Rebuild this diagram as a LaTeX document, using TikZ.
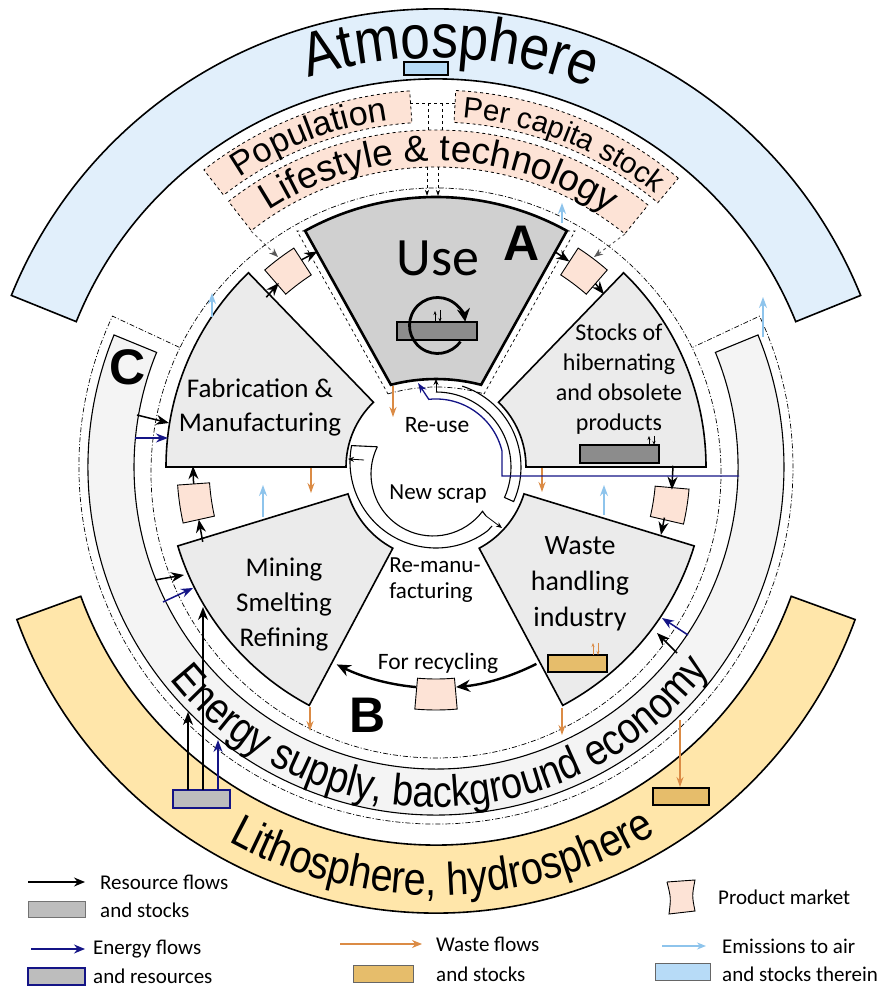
\documentclass[tikz,border=0pt]{standalone}
\usepackage{fontspec}
\setmainfont{Carlito}
\newfontfamily\arialf{Liberation Sans}
\newfontfamily\arialn[FakeStretch=0.86]{Liberation Sans}
\usetikzlibrary{arrows.meta,decorations.text}
\definecolor{atmo}{HTML}{E1EFFB}
\definecolor{atmobox}{HTML}{B7DBF7}
\definecolor{litho}{HTML}{FFE6AA}
\definecolor{bandgray}{HTML}{F4F4F4}
\definecolor{secgray}{HTML}{EBEBEB}
\definecolor{usegray}{HTML}{D0D0D0}
\definecolor{peach}{HTML}{FDE3D6}
\definecolor{stockgray}{HTML}{8C8C8C}
\definecolor{resgray}{HTML}{BDBDBD}
\definecolor{tanbox}{HTML}{E6BD6B}
\definecolor{wasteor}{HTML}{DB8B45}
\definecolor{emis}{HTML}{8EC4EC}
\definecolor{nrgblue}{HTML}{141486}
\newcommand{\ringsec}[5][]{\path[#1] (#2:#4) arc[start angle=#2,end angle=#3,radius=#4] -- (#3:#5) arc[start angle=#3,end angle=#2,radius=#5] -- cycle;}
\begin{document}
\begin{tikzpicture}[x=1pt,y=1pt,
  blk/.style={line width=1.5pt,-{Stealth[length=13pt,width=10pt]}},
  nrg/.style={draw=nrgblue,line width=1.5pt,-{Stealth[length=12pt,width=9pt]}},
  wst/.style={draw=wasteor,line width=1.3pt,-{Stealth[length=10pt,width=7pt]}},
  emi/.style={draw=emis,line width=1.6pt,-{Stealth[length=11pt,width=8pt]}},
  sector/.style={draw=black,line width=1.6pt,fill=secgray,line join=miter},
  mkt/.style={draw=black,line width=0.9pt,fill=peach},
  dshdot/.style={line width=0.7pt,dash pattern=on 5pt off 2pt on 1pt off 2pt},
  dbox/.style={draw,dashed,fill=peach,line width=0.8pt},
  tiny/.style={line width=0.6pt,-{Stealth[length=4pt,width=3pt]}},
  lab/.style={align=center,inner sep=0pt},
  leg/.style={anchor=west,inner sep=0pt,font=\fontsize{21}{24}\selectfont},
  big/.style={font=\arialf\bfseries\fontsize{50}{50}\selectfont,inner sep=0pt}
]
\fill[white] (0,0) rectangle (885,988);
\useasboundingbox (0,0) rectangle (885,988);
\begin{scope}[shift={(436,521)}]
% outer bands
\ringsec[draw,fill=atmo,line width=1.6pt]{22}{158}{458}{388}
\draw[fill=atmobox,line width=1.2pt] (-32,392) rectangle (12,405);
\ringsec[draw,fill=litho,line width=1.6pt]{200}{340}{446}{378}
\ringsec[draw,fill=bandgray,line width=1.1pt]{157.7}{382.3}{348}{302}
% boundaries
\draw[dshdot] (0,-6) circle[radius=285];
\draw[dshdot] (155:283) -- (155:357) arc[start angle=155,end angle=385,radius=357] -- (25:283);
% driver boxes
\ringsec[dbox]{94}{128}{377}{345}
\ringsec[dbox]{50}{87}{377}{345}
\ringsec[dbox]{51}{128}{337}{300}
\draw[dashed,line width=0.8pt] (-26,364) -- (19,364);
\draw[dashed,line width=0.8pt] (-8,364) -- (-8,337);
\draw[dashed,line width=0.8pt] (6,364) -- (6,337);
\draw[dashed,line width=0.7pt,-{Stealth[length=6pt,width=4pt]}] (-9,300) -- (-9,271);
\draw[dashed,line width=0.7pt,-{Stealth[length=6pt,width=4pt]}] (2,300) -- (2,271);
\draw[dashed,draw=black!65,line width=0.9pt,-{Stealth[length=9pt,width=7pt]}] (-185,236) -- (-158,210);
\draw[dashed,draw=black!65,line width=0.9pt,-{Stealth[length=9pt,width=7pt]}] (189,233) -- (158,210);
% curved texts
\path[decorate,decoration={text along path,text align=center,text={|\arialn\fontsize{62}{62}\selectfont|Atmosphere}}] (130:409) arc[start angle=130,end angle=46,radius=409];
\path[decorate,decoration={text along path,text align=center,text={|\arialf\fontsize{34}{34}\selectfont|Population}}] (128:350) arc[start angle=128,end angle=94,radius=350];
\path[decorate,decoration={text along path,text align=center,text={|\arialf\fontsize{29.5}{29.5}\selectfont|Per capita stock}}] (87:350) arc[start angle=87,end angle=50,radius=350];
\path[decorate,decoration={text along path,text align=center,text={|\arialf\fontsize{37}{37}\selectfont|Lifestyle {\&} technology}}] (128:306) arc[start angle=128,end angle=51,radius=306];
\path[decorate,decoration={text along path,text align=center,text={|\arialn\fontsize{44}{44}\selectfont|Energy supply, background economy}}] (204:340) arc[start angle=204,end angle=338,radius=340];
\path[decorate,decoration={text along path,text align=center,text={|\arialn\fontsize{46}{46}\selectfont|Lithosphere, hydrosphere}}] (206:428) arc[start angle=206,end angle=336,radius=428];
% dashed outline around Use
\draw[dashed,line width=0.7pt] (-131,236) -- (-139,236) -- (-48,73);
\draw[dashed,line width=0.7pt] (131,236) -- (139,236) -- (48,73);
\draw[dshdot] (0,-91) ++(106.3:171) arc[start angle=106.3,end angle=73.7,radius=171];
% sectors
\ringsec[sector]{134}{180}{270}{90}
\ringsec[sector]{0}{46}{270}{90}
\ringsec[sector]{197}{242}{270}{92}
\ringsec[sector]{298}{343}{270}{92}
\path[sector,fill=usegray,line width=2.6pt] (119:270) arc[start angle=119,end angle=61,radius=270] -- (45.1,82.2) arc[start angle=75.4,end angle=104.6,radius=179] -- cycle;
% product markets
\ringsec[mkt]{123}{131}{261}{229}
\ringsec[mkt]{49}{57}{261}{229}
\ringsec[mkt]{184}{192.5}{259}{227}
\ringsec[mkt]{-13}{-5}{254}{220}
\ringsec[mkt]{265}{275}{243}{212}
% product flows
\draw[blk] (135:240) -- (130.5:242);
\draw[blk] (123:247) -- (118.8:246);
\draw[blk] (61.2:246) -- (57:245);
\draw[blk] (49:243) -- (45.8:241);
\draw[blk] (0.3:237) -- (-5.5:237);
\draw[blk] (-12.5:234) -- (-16.8:235);
\draw[blk] (197.8:245) -- (192.5:243);
\draw[blk] (184:243) -- (179.8:243);
\draw[line width=2.4pt,-{Stealth[length=14pt,width=12pt]}] (297:221) arc[start angle=297,end angle=275.2,radius=221];
\draw[line width=2.4pt,-{Stealth[length=14pt,width=12pt]}] (264.8:221) arc[start angle=264.8,end angle=243.3,radius=221];
% inflows from background economy
\draw[blk] (-299,52) -- (-267,44);
\draw[nrg] (-301,29) -- (-268,29);
\draw[blk] (-281,-113) -- (-252,-108);
\draw[nrg] (-273,-135) -- (-243,-121);
\draw[blk] (241,-186) -- (221,-166);
\draw[nrg] (252,-168) -- (226,-151);
\draw[draw=nrgblue,fill=resgray,line width=2.2pt] (-263,-323) rectangle (-206,-341);
\draw[blk] (-248,-323) -- (-248,-245);
\draw[blk] (-233,-323) -- (-233,-140);
\draw[nrg] (-218,-323) -- (-218,-273);
% waste flows
\draw[wst] (-43,81) -- (-43,50);
\draw[wst] (-125,-1) -- (-125,-26);
\draw[wst] (106,-1) -- (106,-25);
\draw[wst] (-126,-240) -- (-126,-264);
\draw[wst] (126,-241) -- (126,-268);
\draw[wst] (244,-253) -- (244,-320);
\draw[fill=tanbox,line width=1.6pt] (217,-321) rectangle (273,-338);
\draw[fill=tanbox,line width=1.6pt] (112,-188) rectangle (171,-205);
\draw[tiny,draw=wasteor] (157,-188) -- (157,-176);
\draw[tiny,draw=wasteor] (162,-176) -- (162,-188);
% emissions
\draw[emi] (-224,150) -- (-224,174);
\draw[emi] (126,244) -- (126,264);
\draw[emi] (-173,-50) -- (-173,-18);
\draw[emi] (168,-48) -- (168,-18);
\draw[emi] (327,130) -- (327,170);
% hub: re-use and new scrap
\draw[line width=1.1pt] (90:75) arc[start angle=90,end angle=-24,radius=75] -- (-24:85) arc[start angle=-24,end angle=72,radius=85];
\draw[line width=0.8pt,-{Stealth[length=6pt,width=5pt]}] (0,75) -- (0,88);
\draw[line width=1.1pt] (-58.7,20.2) -- (-84.4,21.4) arc[start angle=169,end angle=307,radius=86] -- (56,-59);
\draw[line width=1.1pt] (-58.7,20.2) arc[start angle=154,end angle=323,radius=62] -- (50,-49);
\draw[line width=0.8pt,-{Stealth[length=6pt,width=5pt]}] (50,-49) -- (66,-61);
\draw[line width=0.8pt,-{Stealth[length=6pt,width=5pt]}] (-72,7) -- (-88,8);
\draw[nrgblue,line width=1.3pt,-{Stealth[length=10pt,width=7pt]}] (303,-9) -- (66,-9) -- (66,16) arc[start angle=13.6,end angle=96,radius=68] -- (-18,84);
% stocks in use and hibernating
\draw[fill=stockgray,line width=1.3pt] (-39,127) rectangle (41,145);
\draw[line width=2.8pt,-{Stealth[length=13pt,width=13pt]}] (1.5,141.5) ++(-35:28) arc[start angle=-35,end angle=-352,radius=28];
\draw[tiny] (-1,145) -- (-1,156);
\draw[tiny] (4,157) -- (4,145);
\draw[fill=stockgray,line width=1.3pt] (144,4) rectangle (223,22);
\draw[tiny] (213,22) -- (213,31);
\draw[tiny] (218,31) -- (218,22);
% labels
\node[lab,font=\fontsize{54}{54}\selectfont] (use) at (2,209) {Use};
\node[big] (lblA) at (86,224) {A};
\node[big] (lblB) at (-68,-248) {B};
\node[big] (lblC) at (-308,100) {C};
\node[lab,font=\fontsize{27}{34}\selectfont] (fab) at (-176,60) {Fabrication \&\\Manufacturing};
\node[lab,font=\fontsize{24}{30}\selectfont] (stk) at (183,88) {Stocks of\\hibernating\\and obsolete\\products};
\node[lab,font=\fontsize{27}{35}\selectfont] (min) at (-152,-138) {Mining\\Smelting\\Refining};
\node[lab,font=\fontsize{28}{36}\selectfont] (wst) at (144,-117) {Waste\\handling\\industry};
\node[lab,font=\fontsize{23.5}{26}\selectfont] (reuse) at (1,42) {Re-use};
\node[lab,font=\fontsize{23}{26}\selectfont] (nscrap) at (2,-27) {New scrap};
\node[lab,align=left,font=\fontsize{23}{26}\selectfont] (reman) at (-1,-113) {Re-manu-\\facturing};
\node[lab,font=\fontsize{23.5}{26}\selectfont] (recyc) at (2,-196) {For recycling};
\end{scope}
% legend
\draw[line width=1.4pt,-{Stealth[length=11pt,width=9pt]}] (28,106) -- (85,106);
\node[leg] (l1) at (100,106) {Resource flows};
\draw[fill=resgray,draw=black!55,line width=1pt] (28,70) rectangle (85,86);
\node[leg] (l2) at (100,78) {and stocks};
\draw[draw=nrgblue,line width=1.4pt,-{Stealth[length=11pt,width=9pt]}] (31,39) -- (85,39);
\node[leg] (l3) at (93,39) {Energy flows};
\draw[fill=resgray,draw=nrgblue,line width=2.2pt] (28,3) rectangle (85,20);
\node[leg] (l4) at (93,12) {and resources};
\draw[draw=wasteor,line width=1.3pt,-{Stealth[length=10pt,width=8pt]}] (340,44) -- (422,44);
\node[leg] (l5) at (436,44) {Waste flows};
\draw[fill=tanbox,draw=black!60,line width=1pt] (353,5) rectangle (413,22);
\node[leg] (l6) at (436,14) {and stocks};
\draw[draw=emis,line width=1.6pt,-{Stealth[length=9pt,width=7pt]}] (662,42) -- (706,42);
\node[leg] (l7) at (722,42) {Emissions to air};
\draw[fill=atmobox,draw=black!60,line width=1pt] (655,7) rectangle (710,24);
\node[leg] (l8) at (722,14) {and stocks therein};
\draw[mkt] (667,106) -- (695,108) .. controls (692,92) .. (695,77) -- (669,74) .. controls (671,90) .. (667,106);
\node[leg] (l9) at (718,91) {Product market};
\end{tikzpicture}
\end{document}
